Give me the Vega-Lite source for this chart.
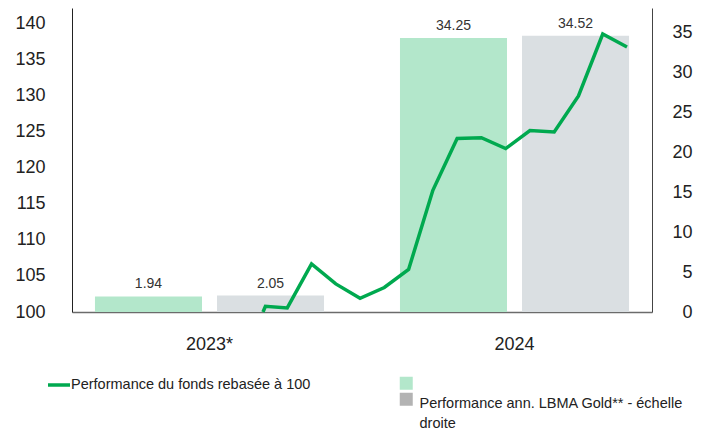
{
  "$schema": "https://vega.github.io/schema/vega-lite/v6.json",
  "width": 580,
  "height": 304,
  "autosize": {"type": "none"},
  "padding": {"left": 72, "top": 8, "right": 49, "bottom": 119},
  "config": {
    "font": "Liberation Sans",
    "view": {"stroke": null},
    "axis": {"grid": false}
  },
  "layer": [
    {
      "data": {
        "values": [
          {"year": "2023*", "series": "fonds", "value": 1.94},
          {"year": "2023*", "series": "gold", "value": 2.05},
          {"year": "2024", "series": "fonds", "value": 34.25},
          {"year": "2024", "series": "gold", "value": 34.52}
        ]
      },
      "encoding": {
        "x": {
          "field": "year",
          "type": "nominal",
          "scale": {"paddingInner": 0.249, "paddingOuter": 0.0753},
          "axis": {
            "orient": "bottom",
            "title": null,
            "labelAngle": 0,
            "labelFontSize": 18,
            "labelColor": "#222222",
            "ticks": false,
            "tickSize": 0,
            "labelPadding": 23,
            "domainColor": "#6b6b6b",
            "domainWidth": 1.5
          }
        },
        "xOffset": {
          "field": "series",
          "type": "nominal",
          "scale": {"paddingInner": 0.123, "paddingOuter": 0}
        },
        "y": {
          "field": "value",
          "type": "quantitative",
          "scale": {"domain": [0, 38], "nice": false, "zero": true},
          "axis": {
            "orient": "right",
            "title": null,
            "values": [0, 5, 10, 15, 20, 25, 30, 35],
            "labelFontSize": 18,
            "labelColor": "#222222",
            "labelAlign": "right",
            "labelPadding": 40,
            "ticks": false,
            "tickSize": 0,
            "domainColor": "#444444",
            "domainWidth": 1
          }
        }
      },
      "layer": [
        {
          "mark": {"type": "bar"},
          "encoding": {
            "fill": {
              "field": "series",
              "type": "nominal",
              "scale": {"domain": ["fonds", "gold"], "range": ["#b3e7cb", "#dadfe2"]},
              "legend": null
            }
          }
        },
        {
          "mark": {"type": "square", "opacity": 0},
          "encoding": {
            "fill": {
              "field": "series",
              "type": "nominal",
              "scale": {"domain": ["fonds", "gold"], "range": ["#b3e7cb", "#b3b3b3"]},
              "legend": {
                "orient": "none",
                "legendX": 327,
                "legendY": 368,
                "title": null,
                "padding": 0,
                "symbolType": "square",
                "symbolSize": 169,
                "symbolStrokeWidth": 0,
                "symbolOpacity": 1,
                "labelFontSize": 14.5,
                "labelColor": "#222222",
                "labelOffset": 6,
                "labelLimit": 500,
                "rowPadding": 2,
                "labelExpr": "datum.value == 'gold' ? ['Performance ann. LBMA Gold** - échelle', 'droite'] : ''",
                "encoding": {
                  "labels": {
                    "baseline": {"condition": {"test": "datum.value == 'gold'", "value": "top"}, "value": "middle"},
                    "lineHeight": {"value": 20},
                    "dy": {"value": -2}
                  }
                }
              }
            }
          }
        },
        {
          "mark": {"type": "text", "baseline": "bottom", "dy": -5, "fontSize": 14, "color": "#333333"},
          "encoding": {
            "text": {"field": "value", "type": "quantitative", "format": ".2f"}
          }
        }
      ],
      "resolve": {"scale": {"fill": "independent"}}
    },
    {
      "data": {
        "values": [
          {"t": 0, "perf": 100.0},
          {"t": 0.1, "perf": 100.8},
          {"t": 1, "perf": 100.56},
          {"t": 2, "perf": 106.67},
          {"t": 3, "perf": 103.9},
          {"t": 4, "perf": 101.9},
          {"t": 5, "perf": 103.4},
          {"t": 6, "perf": 105.9},
          {"t": 7, "perf": 116.9},
          {"t": 8, "perf": 124.1},
          {"t": 9, "perf": 124.2},
          {"t": 10, "perf": 122.7},
          {"t": 11, "perf": 125.2},
          {"t": 12, "perf": 125.0},
          {"t": 13, "perf": 130.0},
          {"t": 14, "perf": 138.6},
          {"t": 15, "perf": 136.8}
        ]
      },
      "mark": {"type": "line", "strokeWidth": 3.5, "strokeJoin": "miter"},
      "encoding": {
        "x": {
          "field": "t",
          "type": "quantitative",
          "scale": {"domain": [-7.87, 16.03], "nice": false, "zero": false},
          "axis": null
        },
        "y": {
          "field": "perf",
          "type": "quantitative",
          "scale": {"domain": [100, 142.22], "nice": false, "zero": false},
          "axis": {
            "orient": "left",
            "title": null,
            "values": [100, 105, 110, 115, 120, 125, 130, 135, 140],
            "labelFontSize": 18,
            "labelColor": "#222222",
            "labelPadding": 27,
            "ticks": false,
            "tickSize": 0,
            "domainColor": "#222222",
            "domainWidth": 1
          }
        },
        "stroke": {
          "datum": "Performance du fonds rebasée à 100",
          "type": "nominal",
          "scale": {"range": ["#00a94f"]},
          "legend": {
            "orient": "none",
            "legendX": -26,
            "legendY": 364,
            "title": null,
            "padding": 0,
            "symbolType": "stroke",
            "symbolSize": 484,
            "symbolStrokeWidth": 3.5,
            "labelFontSize": 14.5,
            "labelColor": "#222222",
            "labelOffset": -1,
            "labelLimit": 500
          }
        }
      }
    }
  ],
  "resolve": {"scale": {"x": "independent", "y": "independent", "fill": "independent", "stroke": "independent"}}
}
